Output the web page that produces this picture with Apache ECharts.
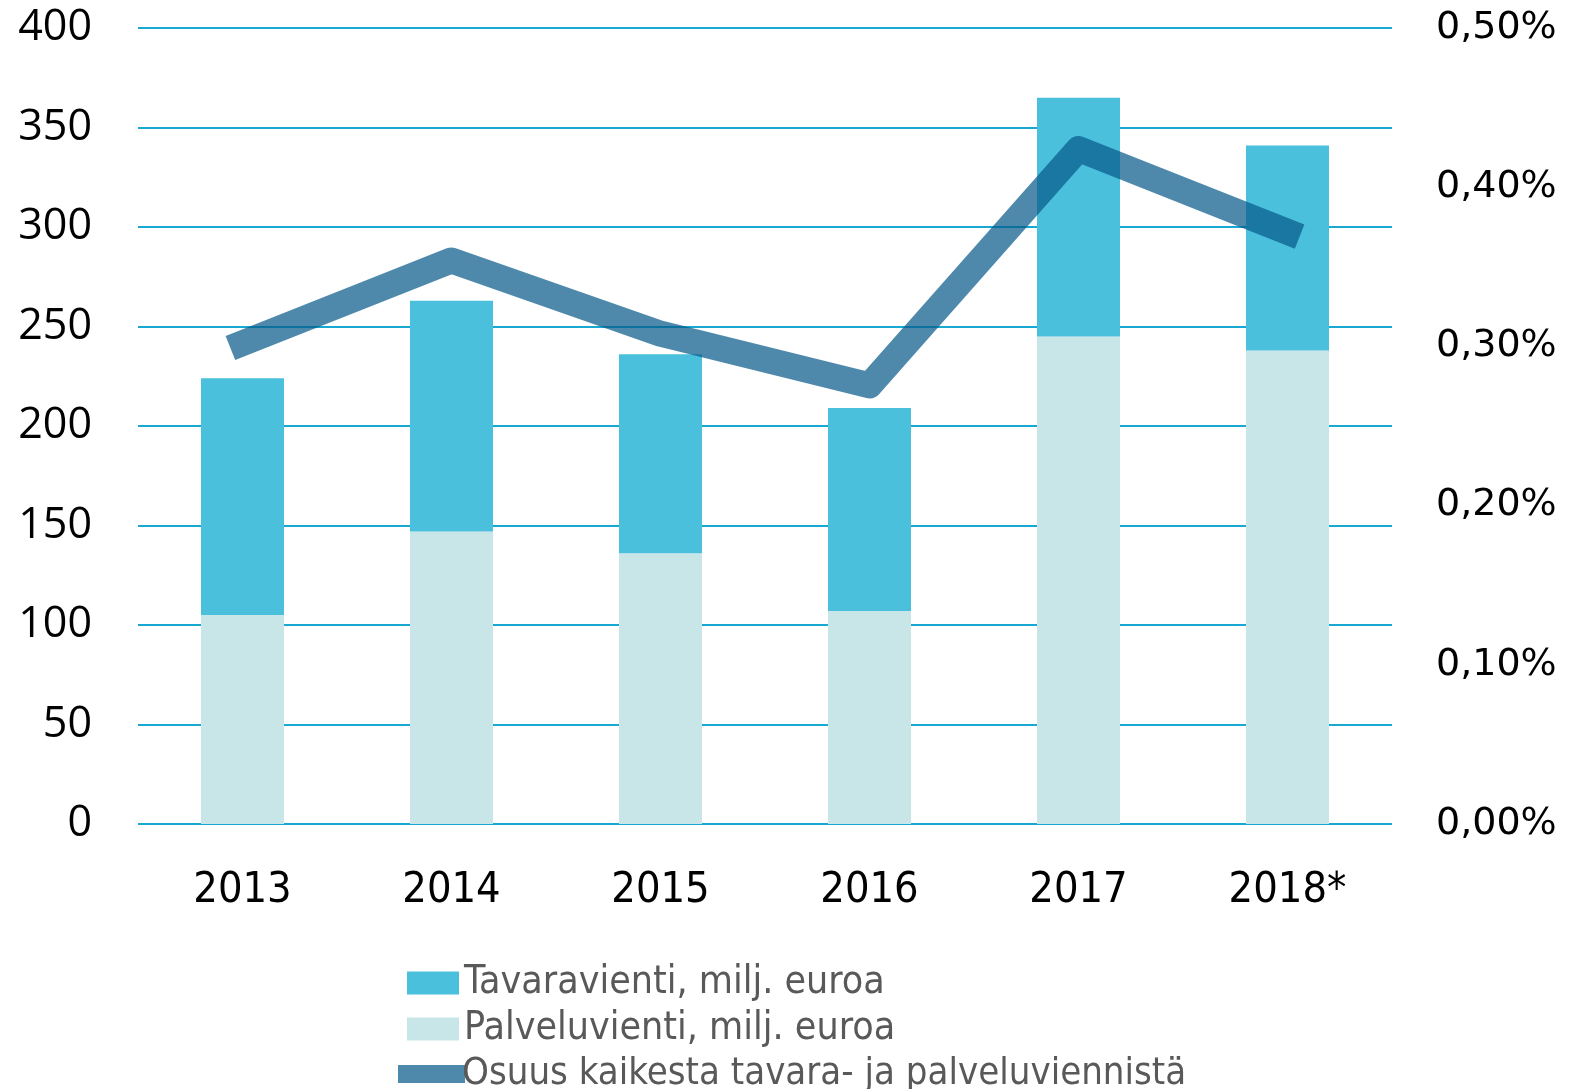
<!DOCTYPE html>
<html>
<head>
<meta charset="utf-8">
<script src="https://cdn.jsdelivr.net/npm/echarts@6/dist/echarts.min.js"></script>
<style>
  html, body { margin: 0; padding: 0; background: #fff; }
  #chart { width: 1588px; height: 1089px; }
</style>
</head>
<body>
<div id="chart"></div>
<script>
const years = ["2013", "2014", "2015", "2016", "2017", "2018*"]
const palveluvienti = [105, 147, 136, 107, 245, 238]
const tavaravienti = [119, 116, 100, 102, 120, 103]
const osuus = [0.302, 0.354, 0.308, 0.2755, 0.424, 0.372]
const leftTicks = { min: 0, max: 400, interval: 50 }
const rightTicks = { min: 0, max: 0.5, interval: 0.1 }

const chart = echarts.init(document.getElementById("chart"))

const narrow = "'Liberation Sans Narrow', 'DejaVu Sans Condensed', 'Open Sans', sans-serif"

chart.setOption({
  animation: false,
  grid: { left: 138, right: 196, top: 28, bottom: 265 },
  legend: [
    {
      orient: "vertical",
      left: 402,
      top: 955,
      itemWidth: 52,
      itemHeight: 23,
      itemGap: 0,
      data: [
        { name: "Tavaravienti, milj. euroa", icon: "rect" },
        { name: "Palveluvienti, milj. euroa", icon: "rect" },
      ],
      textStyle: { fontFamily: narrow, fontSize: 39, lineHeight: 46, color: "#595959" },
    },
    {
      orient: "vertical",
      left: 393,
      top: 1046,
      itemWidth: 67,
      itemHeight: 18,
      data: [{ name: "Osuus kaikesta tavara- ja palveluviennistä", icon: "rect" }],
      textStyle: { fontFamily: narrow, fontSize: 38, lineHeight: 46, color: "#595959", padding: [0, 0, 0, -8] },
    },
  ],
  xAxis: {
    type: "category",
    data: years,
    axisLine: { show: false },
    axisTick: { show: false },
    axisLabel: { margin: 45, fontFamily: narrow, fontSize: 43, color: "#000" },
  },
  yAxis: [
    {
      type: "value",
      ...leftTicks,
      axisLine: { show: false },
      axisTick: { show: false },
      splitLine: { lineStyle: { color: "#17a9d1", width: 2 } },
      axisLabel: { margin: 46, fontFamily: "'Open Sans', sans-serif", fontSize: 43, color: "#000" },
    },
    {
      type: "value",
      ...rightTicks,
      position: "right",
      axisLine: { show: false },
      axisTick: { show: false },
      splitLine: { show: false },
      axisLabel: {
        margin: 44,
        fontFamily: "'DejaVu Sans', sans-serif",
        fontSize: 38,
        color: "#000",
        formatter: (v) => v.toFixed(2).replace(".", ",") + "%",
      },
    },
  ],
  series: [
    {
      name: "Palveluvienti, milj. euroa",
      type: "bar",
      stack: "vienti",
      data: palveluvienti,
      barWidth: 83,
      itemStyle: { color: "#c8e6e8" },
    },
    {
      name: "Tavaravienti, milj. euroa",
      type: "bar",
      stack: "vienti",
      data: tavaravienti,
      barWidth: 83,
      itemStyle: { color: "#4bc0dc" },
    },
    {
      name: "Osuus kaikesta tavara- ja palveluviennistä",
      type: "line",
      yAxisIndex: 1,
      data: osuus,
      showSymbol: false,
      z: 5,
      itemStyle: { color: "rgba(6,89,136,0.71)" },
      lineStyle: { color: "rgba(6,89,136,0.71)", width: 26, cap: "square", join: "round" },
    },
  ],
})
</script>
</body>
</html>
